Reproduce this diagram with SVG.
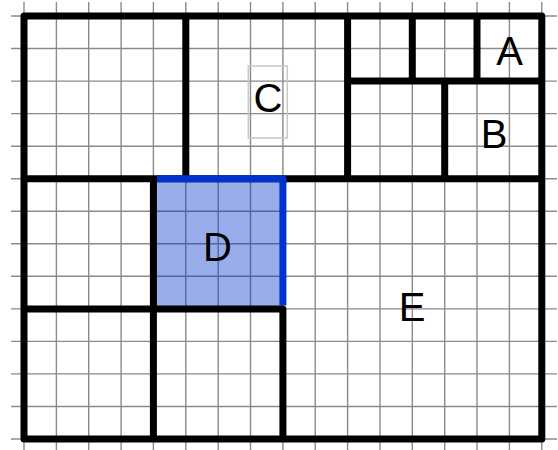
<svg xmlns="http://www.w3.org/2000/svg" width="558" height="450" viewBox="0 0 558 450">
<style>
.grid line{stroke:#8a8a8a;stroke-width:1.4}
.thick{fill:none;stroke:#000;stroke-width:7;stroke-linejoin:round;stroke-linecap:round}
.blue{fill:none;stroke:#0033cc;stroke-width:7;stroke-linejoin:round;stroke-linecap:butt}
.lbl{font-family:"Liberation Sans",Arial,sans-serif;font-size:40px;fill:#000;text-anchor:middle}
</style>
<rect width="558" height="450" fill="#fff"/>
<g id="grid" class="grid">
<line x1="24" y1="2" x2="24" y2="450"/>
<line x1="56.4" y1="2" x2="56.4" y2="450"/>
<line x1="88.7" y1="2" x2="88.7" y2="450"/>
<line x1="121.1" y1="2" x2="121.1" y2="450"/>
<line x1="153.4" y1="2" x2="153.4" y2="450"/>
<line x1="185.8" y1="2" x2="185.8" y2="450"/>
<line x1="218.2" y1="2" x2="218.2" y2="450"/>
<line x1="250.5" y1="2" x2="250.5" y2="450"/>
<line x1="282.9" y1="2" x2="282.9" y2="450"/>
<line x1="315.2" y1="2" x2="315.2" y2="450"/>
<line x1="347.6" y1="2" x2="347.6" y2="450"/>
<line x1="380" y1="2" x2="380" y2="450"/>
<line x1="412.3" y1="2" x2="412.3" y2="450"/>
<line x1="444.7" y1="2" x2="444.7" y2="450"/>
<line x1="477" y1="2" x2="477" y2="450"/>
<line x1="509.4" y1="2" x2="509.4" y2="450"/>
<line x1="541.8" y1="2" x2="541.8" y2="450"/>
<line x1="11" y1="16" x2="557" y2="16"/>
<line x1="11" y1="48.5" x2="557" y2="48.5"/>
<line x1="11" y1="81.1" x2="557" y2="81.1"/>
<line x1="11" y1="113.6" x2="557" y2="113.6"/>
<line x1="11" y1="146.2" x2="557" y2="146.2"/>
<line x1="11" y1="178.7" x2="557" y2="178.7"/>
<line x1="11" y1="211.2" x2="557" y2="211.2"/>
<line x1="11" y1="243.8" x2="557" y2="243.8"/>
<line x1="11" y1="276.3" x2="557" y2="276.3"/>
<line x1="11" y1="308.9" x2="557" y2="308.9"/>
<line x1="11" y1="341.4" x2="557" y2="341.4"/>
<line x1="11" y1="373.9" x2="557" y2="373.9"/>
<line x1="11" y1="406.5" x2="557" y2="406.5"/>
<line x1="11" y1="439" x2="557" y2="439"/>
</g>
<g id="D">
<rect x="153.4" y="178.7" width="129.5" height="130.2" fill="#0033cc" fill-opacity="0.4"/>
<text class="lbl" x="217.5" y="260.5">D</text>
</g>
<g id="connectors">
<path class="thick" d="M24,16 H541.8 V439 H24 Z M185.8,16 V178.7 M347.6,16 V178.7 M347.6,81.1 H541.8 M412.3,16 V81.1 M477,16 V81.1 M444.7,81.1 V178.7 M24,178.7 H541.8 M153.4,178.7 V439 M24,308.9 H282.9 M282.9,308.9 V439"/>
<path class="blue" d="M157,178.7 H282.9 V305.4"/>
</g>
<g id="A"><text class="lbl" x="509.5" y="65">A</text></g>
<g id="B"><text class="lbl" x="494" y="147.5">B</text></g>
<g id="C">
<rect x="248.3" y="66" width="39" height="72" fill="none" stroke="#c8c8c8" stroke-width="1.5"/>
<text class="lbl" x="268" y="111.5">C</text>
</g>
<g id="E"><text class="lbl" x="412" y="320.5">E</text></g>
</svg>
